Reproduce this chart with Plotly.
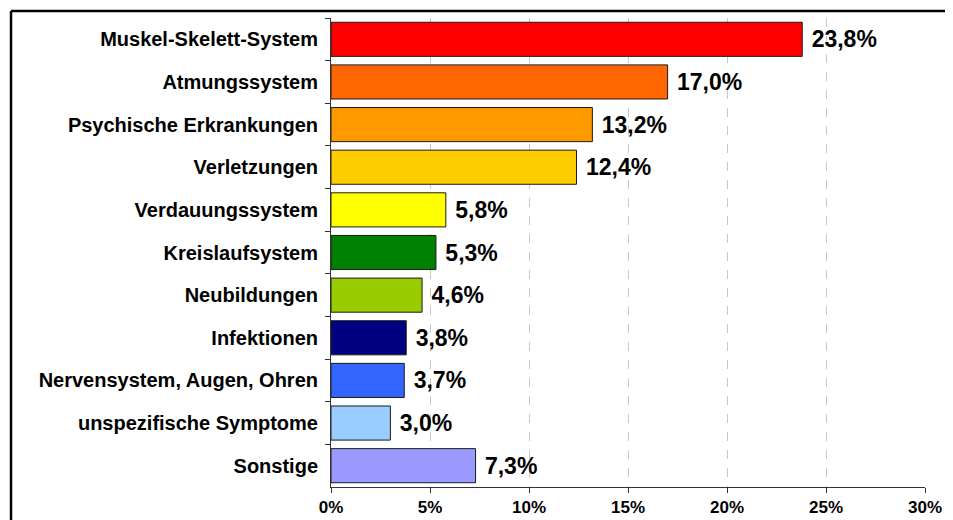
import plotly.graph_objects as go

# Anteile der AU-Tage nach Diagnosegruppen
kategorien = [
    "Muskel-Skelett-System",
    "Atmungssystem",
    "Psychische Erkrankungen",
    "Verletzungen",
    "Verdauungssystem",
    "Kreislaufsystem",
    "Neubildungen",
    "Infektionen",
    "Nervensystem, Augen, Ohren",
    "unspezifische Symptome",
    "Sonstige",
]
anteile = [23.8, 17.0, 13.2, 12.4, 5.8, 5.3, 4.6, 3.8, 3.7, 3.0, 7.3]
farben = [
    "#FF0000", "#FF6600", "#FF9900", "#FFCC00", "#FFFF00", "#008000",
    "#99CC00", "#000080", "#3366FF", "#99CCFF", "#9999FF",
]
x_ticks = [0, 5, 10, 15, 20, 25, 30]
x_ticklabels = ["0%", "5%", "10%", "15%", "20%", "25%", "30%"]

beschriftung = [f"{v:.1f}%".replace(".", ",") for v in anteile]

fig = go.Figure(
    go.Bar(
        x=anteile,
        y=kategorien,
        orientation="h",
        marker=dict(color=farben, line=dict(color="#1a1a1a", width=1)),
        text=beschriftung,
        texttemplate="\u00a0%{text}",
        textposition="outside",
        cliponaxis=False,
        textfont=dict(family="Liberation Sans", size=23, color="black", weight="bold"),
        hoverinfo="skip",
    )
)

# Seite hat 8px Rand, deshalb Abstände um 8px verschoben
rahmen = dict(color="black", width=2.5)
fig.update_layout(
    width=953,
    height=520,
    margin=dict(l=323, r=36, t=10, b=41),
    paper_bgcolor="white",
    plot_bgcolor="white",
    bargap=0.2,
    showlegend=False,
    font=dict(family="Liberation Sans", color="black"),
    # Rahmen: nur links und oben sichtbar, rechts/unten liegt er ausserhalb
    shapes=[
        dict(type="line", xref="paper", yref="paper",
             x0=-0.5387, x1=-0.5387, y0=-0.3, y1=1.0149, line=rahmen, layer="above"),
        dict(type="line", xref="paper", yref="paper",
             x0=-0.5387, x1=1.3, y0=1.0149, y1=1.0149, line=rahmen, layer="above"),
    ],
)

fig.update_xaxes(
    range=[0, 30],
    tickvals=x_ticks,
    ticktext=x_ticklabels,
    tickfont=dict(size=17, weight="bold"),
    showline=True,
    linecolor="#333",
    linewidth=1,
    ticks="outside",
    ticklen=5,
    tickcolor="#333",
    showgrid=True,
    gridcolor="#C8C8C8",
    griddash="dash",
    gridwidth=1,
    zeroline=False,
)
fig.update_yaxes(
    autorange="reversed",
    tickson="boundaries",
    ticks="outside",
    ticklen=5,
    tickcolor="#333",
    showline=True,
    linecolor="#333",
    linewidth=1,
    showgrid=False,
    tickfont=dict(size=20, weight="bold"),
    ticklabelstandoff=8,
)

fig.write_html("out.html")
